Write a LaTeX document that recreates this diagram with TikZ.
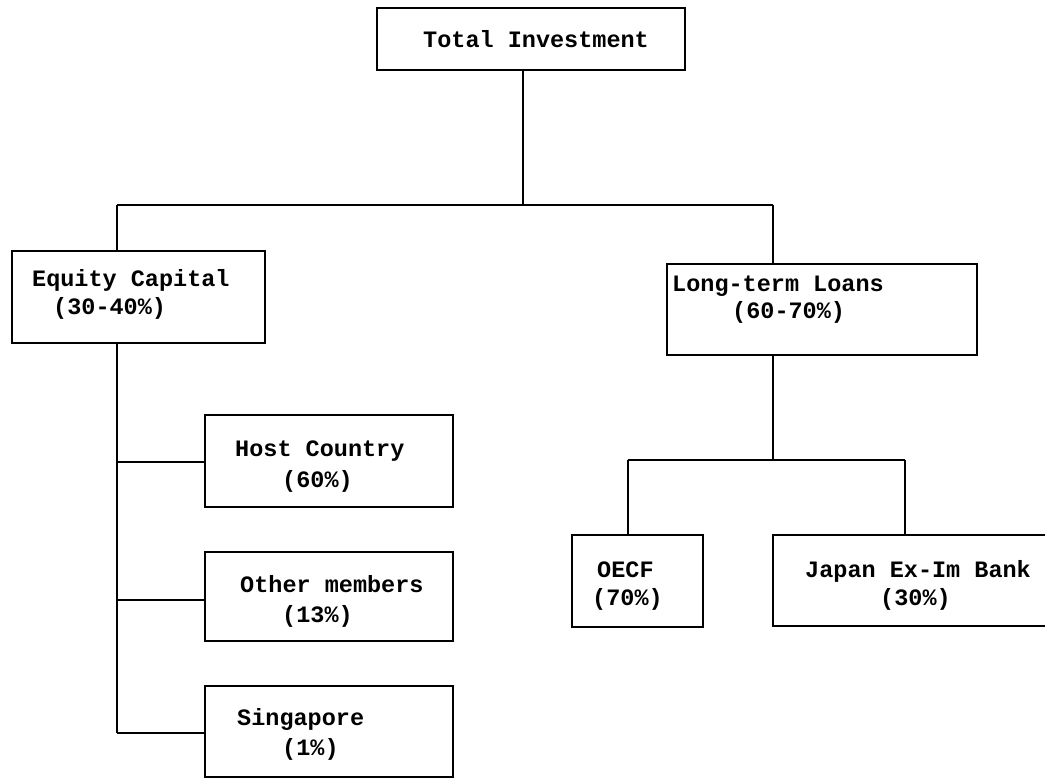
\documentclass[tikz,border=0pt]{standalone}
\usepackage{fontspec}
\setmonofont{Liberation Mono}
\begin{document}
\begin{tikzpicture}[x=1pt,y=-1pt,
  box/.style={draw, line width=2.4pt, inner sep=0pt, outer sep=0pt},
  txt/.style={anchor=base west, inner sep=0pt, font=\fontsize{23.5}{26}\ttfamily\bfseries},
  conn/.style={line width=2.8pt}]
\useasboundingbox[fill=white] (0,0) rectangle (1045,778);
% boxes
\node[box, minimum width=308pt, minimum height=62pt] (tot) at (531,39) {};
\node[box, minimum width=253pt, minimum height=92pt] (eq) at (138.5,297) {};
\node[box, minimum width=310pt, minimum height=91pt] (lt) at (822,309.5) {};
\node[box, minimum width=248pt, minimum height=92pt] (host) at (329,461) {};
\node[box, minimum width=248pt, minimum height=89pt] (oth) at (329,596.5) {};
\node[box, minimum width=248pt, minimum height=91pt] (sg) at (329,731.5) {};
\node[box, minimum width=131pt, minimum height=92pt] (oecf) at (637.5,581) {};
\node[box, minimum width=292pt, minimum height=91pt] (jp) at (919,580.5) {};
% texts
\node[txt] (ttot) at (423,48) {Total Investment};
\node[txt] (teq1) at (32,287) {Equity Capital};
\node[txt] (teq2) at (53,315) {(30-40\%)};
\node[txt] (tlt1) at (672,291) {Long-term Loans};
\node[txt] (tlt2) at (732,319) {(60-70\%)};
\node[txt] (thost1) at (235,456) {Host Country};
\node[txt] (thost2) at (282,487) {(60\%)};
\node[txt] (toth1) at (240,592) {Other members};
\node[txt] (toth2) at (282,622) {(13\%)};
\node[txt] (tsg1) at (237,725) {Singapore};
\node[txt] (tsg2) at (282,755) {(1\%)};
\node[txt] (toecf1) at (597,577) {OECF};
\node[txt] (toecf2) at (592,605) {(70\%)};
\node[txt] (tjp1) at (805,577) {Japan Ex-Im Bank};
\node[txt] (tjp2) at (880,605) {(30\%)};
% junction coordinates
\coordinate (hT) at (523,205);
\coordinate (hL) at (117,205);
\coordinate (hR) at (773,205);
\coordinate (vE) at (117,343);
\coordinate (bH) at (117,462);
\coordinate (bO) at (117,600);
\coordinate (bS) at (117,733);
\coordinate (lT) at (773,460);
\coordinate (lL) at (628,460);
\coordinate (lR) at (905,460);
% connectors
\draw[conn] (tot.south -| hT) -- (hT);
\draw[conn] (hL) -- (hR);
\draw[conn] (hL) -- (hL |- eq.north);
\draw[conn] (hR) -- (hR |- lt.north);
\draw[conn] (eq.south -| vE) -- (bS);
\draw[conn] (bH) -- (bH -| host.west);
\draw[conn] (bO) -- (bO -| oth.west);
\draw[conn] (bS) -- (bS -| sg.west);
\draw[conn] (lt.south -| lT) -- (lT);
\draw[conn] (lL) -- (lR);
\draw[conn] (lL) -- (lL |- oecf.north);
\draw[conn] (lR) -- (lR |- jp.north);
\end{tikzpicture}
\end{document}
